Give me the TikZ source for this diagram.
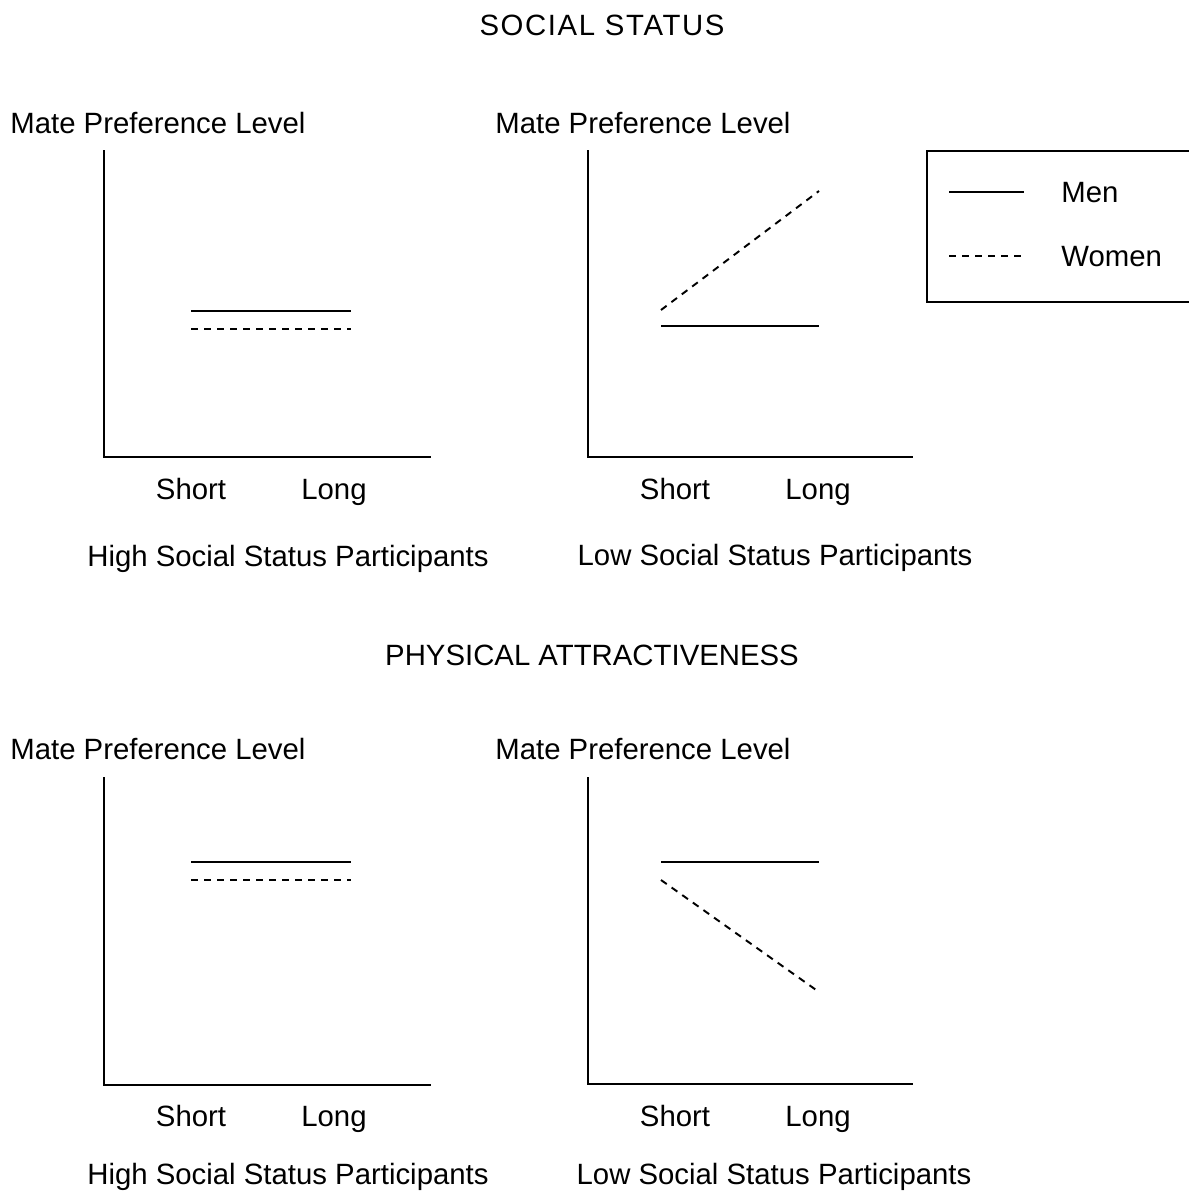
\documentclass[tikz,border=0pt]{standalone}
\usepackage{fontspec}
\setmainfont{Liberation Sans}

\begin{document}
\begin{tikzpicture}[x=0.02cm,y=-0.02cm,
  every node/.style={font=\fontsize{16.7}{20}\selectfont,inner sep=0pt},
  title/.style={font=\fontsize{16.7}{20}\selectfont\addfontfeature{LetterSpace=5.5}},
  axis/.style={line width=1.1pt},
  men/.style={line width=1.1pt},
  women/.style={line width=1.1pt,dash pattern=on 4pt off 3.4pt}]
\useasboundingbox (0,0) rectangle (1188,1197);

\node[title,anchor=base] (T1) at (602,35) {SOCIAL STATUS};
\node[anchor=base west] (Y1) at (10,133.5) {Mate Preference Level};
\node[anchor=base west] (Y2) at (495,133.5) {Mate Preference Level};
\coordinate (A1) at (104,150);
\coordinate (O1) at (104,457);
\coordinate (X1) at (431,457);
\coordinate (A2) at (588,150);
\coordinate (O2) at (588,457);
\coordinate (X2) at (913,457);
\draw[axis] (A1) -- (O1) -- (X1);
\draw[axis] (A2) -- (O2) -- (X2);
\coordinate (M1s) at (191,311);
\coordinate (M1l) at (351,311);
\coordinate (W1s) at (191,329);
\coordinate (W1l) at (351,329);
\draw[men] (M1s) -- (M1l);
\draw[women] (W1s) -- (W1l);
\coordinate (M2s) at (661,326);
\coordinate (M2l) at (819,326);
\coordinate (W2s) at (661,310);
\coordinate (W2l) at (819,191);
\draw[men] (M2s) -- (M2l);
\draw[women] (W2s) -- (W2l);
\node[anchor=base] (S1) at (191,499.5) {Short};
\node[anchor=base] (L1) at (334,499.5) {Long};
\node[anchor=base] (S2) at (675,499.5) {Short};
\node[anchor=base] (L2) at (818,499.5) {Long};
\node[anchor=base] (P1) at (288,566.5) {High Social Status Participants};
\node[anchor=base] (P2) at (775,565) {Low Social Status Participants};

\node[draw,line width=1.1pt,minimum width=274*0.02cm,minimum height=151*0.02cm,anchor=north west] (K) at (926,150) {};
\coordinate (Km1) at (949,192);
\coordinate (Km2) at (1024,192);
\coordinate (Kw1) at (949,256);
\coordinate (Kw2) at (1024,256);
\draw[men] (Km1) -- (Km2);
\draw[women] (Kw1) -- (Kw2);
\node[anchor=base west] (Km) at (1061,202.5) {Men};
\node[anchor=base west] (Kw) at (1061,266.5) {Women};

\node[anchor=base] (T2) at (592,665.5) {PHYSICAL ATTRACTIVENESS};
\node[anchor=base west] (Y3) at (10,759.5) {Mate Preference Level};
\node[anchor=base west] (Y4) at (495,759.5) {Mate Preference Level};
\coordinate (A3) at (104,777);
\coordinate (O3) at (104,1085);
\coordinate (X3) at (431,1085);
\coordinate (A4) at (588,777);
\coordinate (O4) at (588,1084);
\coordinate (X4) at (913,1084);
\draw[axis] (A3) -- (O3) -- (X3);
\draw[axis] (A4) -- (O4) -- (X4);
\coordinate (M3s) at (191,862);
\coordinate (M3l) at (351,862);
\coordinate (W3s) at (191,880);
\coordinate (W3l) at (351,880);
\draw[men] (M3s) -- (M3l);
\draw[women] (W3s) -- (W3l);
\coordinate (M4s) at (661,862);
\coordinate (M4l) at (819,862);
\coordinate (W4s) at (661,880);
\coordinate (W4l) at (819,992);
\draw[men] (M4s) -- (M4l);
\draw[women] (W4s) -- (W4l);
\node[anchor=base] (S3) at (191,1126.5) {Short};
\node[anchor=base] (L3) at (334,1126.5) {Long};
\node[anchor=base] (S4) at (675,1126.5) {Short};
\node[anchor=base] (L4) at (818,1126.5) {Long};
\node[anchor=base] (P3) at (288,1184.5) {High Social Status Participants};
\node[anchor=base] (P4) at (774,1184.5) {Low Social Status Participants};
\end{tikzpicture}
\end{document}
